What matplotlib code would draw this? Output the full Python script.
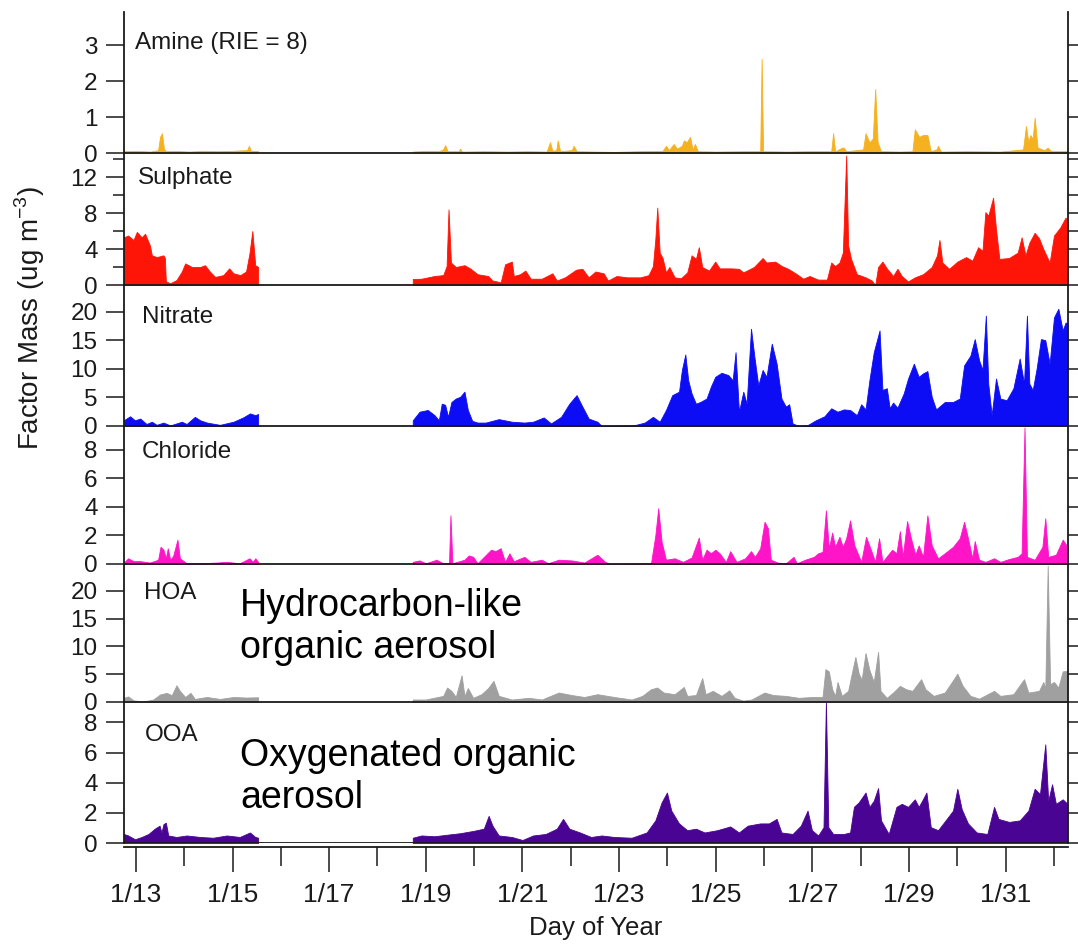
import numpy as np
import matplotlib.pyplot as plt
from matplotlib.ticker import FixedLocator, MultipleLocator

plt.rcParams['font.family'] = ['Liberation Sans', 'DejaVu Sans']
plt.rcParams['mathtext.fontset'] = 'custom'
plt.rcParams['mathtext.rm'] = 'Liberation Sans'

# --- factor mass time series (day of January, ug m-3) ---
# each factor has two measurement periods separated by a data gap

amine_t1 = [12.75, 13.00, 13.30, 13.46, 13.50, 13.54, 13.58, 13.62, 13.80, 14.10, 14.40, 14.70, 15.00, 15.30, 15.34, 15.38, 15.53]
amine_v1 = [0.05, 0.06, 0.04, 0.08, 0.45, 0.55, 0.12, 0.05, 0.06, 0.04, 0.06, 0.05, 0.06, 0.08, 0.20, 0.06, 0.05]
amine_t2 = [18.73, 19.00, 19.27, 19.36, 19.40, 19.45, 19.68, 19.71, 19.75, 20.20, 20.69, 21.10, 21.50, 21.57, 21.62,
            21.70, 21.73, 21.78, 22.02, 22.06, 22.12, 22.50, 22.90, 23.40, 23.90, 23.97, 24.03, 24.13, 24.20, 24.30,
            24.34, 24.40, 24.47, 24.52, 24.57, 24.63, 25.00, 25.57, 25.92, 25.95, 25.98, 26.50, 26.90, 27.39, 27.43,
            27.47, 27.62, 27.65, 27.70, 28.05, 28.10, 28.18, 28.25, 28.30, 28.35, 28.42, 28.80, 29.07, 29.12, 29.21,
            29.29, 29.38, 29.45, 29.57, 29.60, 29.66, 30.20, 30.89, 31.36, 31.42, 31.47, 31.51, 31.56, 31.60, 31.66,
            31.80, 31.87, 31.94, 32.28]
amine_v2 = [0.04, 0.06, 0.05, 0.10, 0.22, 0.05, 0.05, 0.12, 0.04, 0.05, 0.04, 0.05, 0.04, 0.30, 0.06,
            0.08, 0.35, 0.05, 0.08, 0.20, 0.05, 0.04, 0.03, 0.05, 0.06, 0.20, 0.08, 0.25, 0.12, 0.20,
            0.35, 0.30, 0.45, 0.10, 0.25, 0.05, 0.04, 0.05, 0.05, 2.62, 0.05, 0.04, 0.05, 0.05, 0.55,
            0.05, 0.15, 0.15, 0.05, 0.10, 0.55, 0.30, 0.40, 1.78, 0.30, 0.05, 0.04, 0.05, 0.66, 0.45,
            0.50, 0.50, 0.05, 0.10, 0.20, 0.04, 0.05, 0.04, 0.10, 0.75, 0.30, 0.50, 0.40, 0.98, 0.15,
            0.08, 0.15, 0.05, 0.05]

sulphate_t1 = [12.75, 12.84, 12.95, 13.02, 13.12, 13.19, 13.29, 13.33, 13.43, 13.57, 13.60, 13.62, 13.71, 13.84, 13.95,
               14.02, 14.16, 14.33, 14.43, 14.53, 14.64, 14.81, 14.93, 15.02, 15.16, 15.28, 15.35, 15.41, 15.47, 15.53]
sulphate_v1 = [5.3, 5.5, 5.0, 5.9, 5.3, 5.7, 4.4, 3.3, 3.1, 3.3, 3.0, 0.4, 0.2, 0.55, 1.5,
               2.4, 2.0, 2.0, 2.2, 1.5, 0.9, 1.1, 1.85, 1.3, 1.1, 1.5, 3.5, 6.0, 2.2, 2.0]
sulphate_t2 = [18.73, 18.91, 19.18, 19.36, 19.43, 19.47, 19.52, 19.62, 19.80, 19.93, 20.07, 20.29, 20.38, 20.55, 20.64,
               20.78, 20.82, 20.95, 21.06, 21.17, 21.40, 21.62, 21.71, 21.88, 22.11, 22.24, 22.37, 22.51, 22.68, 22.77,
               22.95, 23.17, 23.44, 23.61, 23.70, 23.75, 23.79, 23.84, 23.90, 23.97, 24.04, 24.15, 24.28, 24.41, 24.50,
               24.59, 24.65, 24.72, 24.86, 24.99, 25.08, 25.30, 25.48, 25.57, 25.79, 25.97, 26.05, 26.23, 26.37, 26.50,
               26.68, 26.81, 26.94, 27.12, 27.30, 27.39, 27.47, 27.56, 27.63, 27.70, 27.74, 27.80, 27.92, 28.10, 28.23,
               28.30, 28.36, 28.45, 28.54, 28.67, 28.76, 28.85, 28.98, 29.12, 29.29, 29.47, 29.58, 29.63, 29.69, 29.83,
               30.00, 30.18, 30.31, 30.43, 30.52, 30.58, 30.64, 30.74, 30.80, 30.87, 31.07, 31.25, 31.33, 31.41, 31.49,
               31.60, 31.69, 31.78, 31.91, 32.00, 32.13, 32.24, 32.28]
sulphate_v2 = [0.67, 0.7, 1.0, 1.1, 2.1, 8.4, 2.5, 2.0, 2.2, 1.8, 1.2, 1.0, 0.5, 0.3, 2.3,
               2.6, 1.0, 1.2, 1.6, 0.7, 0.7, 1.3, 0.5, 0.85, 1.7, 1.8, 0.85, 1.5, 1.3, 0.5,
               1.0, 0.85, 0.85, 1.1, 2.1, 5.1, 8.6, 3.6, 3.0, 1.4, 2.0, 0.85, 0.75, 1.4, 3.3,
               2.9, 4.2, 2.0, 1.6, 2.6, 1.85, 1.85, 1.8, 1.4, 2.0, 3.0, 2.5, 2.6, 2.1, 1.8,
               1.2, 0.7, 1.0, 0.6, 0.6, 2.5, 2.1, 2.5, 3.6, 14.4, 4.4, 2.9, 1.2, 0.85, 0.5,
               0.0, 2.0, 2.6, 1.85, 1.0, 1.8, 1.0, 0.4, 0.85, 1.2, 2.0, 3.3, 5.0, 2.5, 1.8,
               2.6, 3.1, 2.7, 4.2, 3.8, 8.1, 7.7, 9.7, 6.2, 2.9, 3.0, 3.6, 5.3, 3.3, 4.7,
               5.8, 5.2, 4.0, 2.5, 5.5, 6.4, 7.5, 7.0]

nitrate_t1 = [12.75, 12.88, 12.98, 13.09, 13.22, 13.33, 13.43, 13.57, 13.71, 13.95, 14.05, 14.22, 14.33, 14.47, 14.74,
              15.02, 15.22, 15.36, 15.47, 15.53]
nitrate_v1 = [1.0, 1.7, 1.0, 1.3, 0.35, 0.75, 0.2, 0.6, 0.1, 0.75, 0.35, 1.6, 1.0, 0.6, 0.2,
              0.75, 1.5, 2.2, 1.9, 2.1]
nitrate_t2 = [18.73, 18.87, 19.04, 19.18, 19.27, 19.33, 19.40, 19.46, 19.53, 19.62, 19.71, 19.80, 19.87, 19.96, 20.07,
              20.24, 20.51, 20.78, 21.04, 21.22, 21.44, 21.59, 21.80, 21.97, 22.12, 22.24, 22.37, 22.55, 22.64, 23.30,
              23.53, 23.70, 23.84, 23.97, 24.10, 24.24, 24.30, 24.37, 24.43, 24.50, 24.59, 24.68, 24.81, 24.90, 24.99,
              25.12, 25.26, 25.35, 25.41, 25.48, 25.57, 25.64, 25.73, 25.80, 25.88, 25.97, 26.05, 26.16, 26.26, 26.36,
              26.45, 26.52, 26.59, 26.72, 26.90, 27.07, 27.25, 27.39, 27.52, 27.65, 27.78, 27.92, 28.01, 28.10, 28.18,
              28.27, 28.39, 28.45, 28.54, 28.60, 28.67, 28.76, 28.89, 28.98, 29.10, 29.20, 29.29, 29.38, 29.47, 29.56,
              29.74, 29.91, 30.05, 30.14, 30.27, 30.36, 30.45, 30.52, 30.59, 30.64, 30.71, 30.80, 30.89, 31.02, 31.16,
              31.29, 31.38, 31.44, 31.49, 31.56, 31.64, 31.73, 31.82, 31.91, 32.00, 32.09, 32.18, 32.24, 32.28]
nitrate_v2 = [1.0, 2.5, 2.8, 1.9, 1.0, 3.9, 3.7, 1.6, 4.2, 4.8, 5.1, 6.0, 2.8, 0.9, 0.6,
              0.6, 1.2, 0.75, 0.6, 0.75, 1.5, 0.45, 1.6, 3.9, 5.4, 3.4, 1.3, 0.75, 0.0, 0.1,
              0.6, 1.6, 0.75, 2.8, 5.4, 6.0, 9.8, 12.5, 8.0, 5.7, 3.9, 4.2, 4.8, 6.9, 8.6,
              9.3, 8.9, 8.0, 12.9, 2.5, 6.0, 3.9, 17.0, 12.1, 7.1, 9.8, 8.6, 14.4, 10.9, 4.8,
              3.4, 3.8, 0.45, 0.0, 0.15, 1.0, 1.7, 3.1, 2.5, 2.9, 2.8, 1.9, 3.8, 2.9, 8.0,
              12.9, 16.7, 6.3, 6.6, 3.1, 4.1, 3.2, 5.7, 8.3, 10.9, 8.6, 9.2, 9.6, 5.1, 2.9,
              4.2, 4.2, 4.8, 10.6, 12.3, 15.2, 11.5, 9.8, 19.3, 7.4, 1.9, 8.3, 4.8, 4.5, 6.6,
              11.8, 7.4, 19.3, 7.4, 6.3, 10.0, 15.2, 15.0, 10.9, 19.0, 20.5, 16.7, 18.1, 17.9]

chloride_t1 = [12.75, 12.84, 12.95, 13.09, 13.29, 13.46, 13.51, 13.57, 13.62, 13.66, 13.71, 13.77, 13.86, 13.91, 14.05,
               14.33, 14.67, 14.88, 15.15, 15.35, 15.42, 15.47, 15.53]
chloride_v1 = [0.1, 0.4, 0.2, 0.2, 0.1, 0.3, 1.2, 1.0, 0.4, 1.1, 0.3, 0.55, 1.7, 0.4, 0.05,
               0.05, 0.1, 0.15, 0.05, 0.4, 0.15, 0.4, 0.15]
chloride_t2 = [18.73, 18.87, 19.00, 19.22, 19.36, 19.48, 19.51, 19.55, 19.80, 19.89, 19.98, 20.07, 20.35, 20.44, 20.55,
               20.64, 20.73, 20.82, 21.04, 21.17, 21.40, 21.53, 21.75, 22.02, 22.28, 22.55, 22.71, 22.82, 23.66, 23.75,
               23.81, 23.88, 23.97, 24.15, 24.32, 24.50, 24.65, 24.72, 24.81, 24.90, 24.99, 25.08, 25.21, 25.30, 25.43,
               25.61, 25.73, 25.81, 25.92, 26.01, 26.08, 26.14, 26.28, 26.45, 26.61, 26.68, 26.85, 27.03, 27.12, 27.21,
               27.28, 27.34, 27.41, 27.47, 27.56, 27.63, 27.70, 27.78, 27.87, 28.01, 28.11, 28.21, 28.30, 28.38, 28.45,
               28.65, 28.74, 28.81, 28.87, 28.96, 29.04, 29.13, 29.20, 29.29, 29.38, 29.47, 29.60, 29.74, 29.91, 30.05,
               30.14, 30.22, 30.31, 30.36, 30.45, 30.58, 30.76, 30.89, 31.07, 31.25, 31.33, 31.39, 31.44, 31.60, 31.76,
               31.82, 31.88, 32.04, 32.18, 32.28]
chloride_v2 = [0.15, 0.25, 0.05, 0.3, 0.05, 0.05, 3.4, 0.05, 0.3, 0.6, 0.5, 0.05, 1.0, 0.9, 1.1,
               0.15, 0.75, 0.2, 0.5, 0.15, 0.3, 0.05, 0.3, 0.25, 0.1, 0.65, 0.15, 0.0, 0.05, 2.0,
               3.9, 1.55, 0.3, 0.4, 0.15, 0.45, 1.85, 0.3, 1.0, 0.75, 1.0, 0.75, 0.15, 0.9, 0.15,
               0.4, 0.9, 0.5, 1.1, 2.95, 2.5, 0.3, 0.1, 0.05, 0.5, 0.05, 0.3, 0.5, 0.75, 0.85,
               3.75, 1.1, 2.2, 1.2, 1.9, 1.2, 1.8, 3.05, 1.3, 0.15, 1.9, 1.0, 0.15, 1.8, 0.15,
               1.0, 0.75, 2.3, 0.5, 3.0, 1.8, 0.65, 1.3, 0.5, 3.4, 1.3, 0.4, 0.75, 1.2, 1.8,
               2.95, 1.8, 0.4, 1.6, 0.3, 0.15, 0.4, 0.15, 0.35, 0.5, 0.75, 9.55, 0.5, 0.3, 1.2,
               3.2, 0.5, 0.65, 1.7, 1.2]

hoa_t1 = [12.75, 12.84, 12.95, 13.15, 13.36, 13.50, 13.64, 13.74, 13.84, 13.91, 14.02, 14.13, 14.22, 14.47, 14.74,
          15.02, 15.29, 15.53]
hoa_v1 = [0.75, 1.0, 0.3, 0.1, 0.45, 1.35, 1.65, 1.2, 3.0, 2.0, 0.9, 1.65, 0.55, 0.9, 0.55,
          0.9, 0.8, 0.85]
hoa_t2 = [18.73, 19.00, 19.36, 19.44, 19.53, 19.62, 19.74, 19.80, 19.87, 19.98, 20.15, 20.29, 20.40, 20.51, 20.78,
          21.13, 21.40, 21.75, 22.02, 22.28, 22.55, 22.90, 23.26, 23.48, 23.66, 23.79, 23.92, 24.15, 24.34, 24.41,
          24.59, 24.72, 24.79, 24.94, 25.12, 25.28, 25.39, 25.57, 25.74, 26.01, 26.19, 26.45, 26.72, 26.99, 27.21,
          27.27, 27.34, 27.41, 27.47, 27.52, 27.61, 27.74, 27.80, 27.89, 27.96, 28.02, 28.10, 28.18, 28.27, 28.36,
          28.41, 28.54, 28.67, 28.81, 28.94, 29.07, 29.25, 29.34, 29.51, 29.74, 29.91, 30.00, 30.11, 30.27, 30.45,
          30.76, 30.89, 31.16, 31.38, 31.47, 31.69, 31.78, 31.82, 31.87, 31.92, 32.00, 32.09, 32.18, 32.28]
hoa_v2 = [0.45, 0.45, 1.1, 2.6, 2.0, 0.9, 4.8, 1.1, 2.5, 0.75, 1.4, 2.5, 3.8, 1.1, 0.45,
          0.75, 0.45, 1.7, 1.25, 0.9, 1.4, 0.9, 0.45, 1.1, 2.3, 2.6, 1.7, 1.4, 2.7, 1.1,
          1.25, 4.3, 1.4, 2.0, 1.1, 2.1, 0.75, 0.25, 0.45, 1.7, 1.25, 1.1, 0.75, 0.9, 0.9,
          5.9, 5.5, 2.3, 1.1, 3.6, 1.1, 2.0, 4.5, 8.1, 5.1, 4.0, 8.8, 5.75, 3.6, 9.0,
          2.0, 0.75, 1.7, 2.9, 2.3, 2.0, 4.1, 2.3, 1.1, 1.7, 3.9, 5.1, 2.9, 1.1, 0.6,
          2.0, 1.1, 1.4, 4.1, 1.7, 2.0, 3.6, 2.3, 24.5, 3.2, 3.6, 2.6, 5.5, 5.6]

ooa_t1 = [12.75, 12.84, 12.98, 13.12, 13.26, 13.39, 13.49, 13.53, 13.57, 13.62, 13.67, 13.84, 14.05, 14.33, 14.60,
          14.88, 15.15, 15.36, 15.47, 15.53]
ooa_v1 = [0.6, 0.5, 0.25, 0.4, 0.6, 0.95, 1.15, 0.7, 1.25, 1.35, 0.5, 0.4, 0.5, 0.4, 0.35,
          0.5, 0.4, 0.7, 0.4, 0.35]
ooa_t2 = [18.73, 18.91, 19.18, 19.44, 19.71, 19.98, 20.20, 20.30, 20.38, 20.51, 20.78, 21.00, 21.22, 21.48, 21.71,
          21.84, 21.97, 22.19, 22.42, 22.64, 22.90, 23.26, 23.57, 23.75, 23.88, 23.99, 24.08, 24.24, 24.41, 24.59,
          24.77, 25.03, 25.30, 25.48, 25.66, 25.92, 26.10, 26.26, 26.36, 26.59, 26.76, 26.90, 26.99, 27.12, 27.23,
          27.28, 27.33, 27.43, 27.65, 27.78, 27.86, 27.96, 28.10, 28.18, 28.27, 28.36, 28.42, 28.58, 28.74, 28.85,
          28.98, 29.12, 29.20, 29.27, 29.36, 29.45, 29.60, 29.78, 29.91, 30.00, 30.09, 30.22, 30.40, 30.62, 30.76,
          30.85, 31.07, 31.29, 31.47, 31.60, 31.71, 31.82, 31.88, 31.96, 32.04, 32.18, 32.28]
ooa_v2 = [0.35, 0.5, 0.45, 0.55, 0.65, 0.8, 0.95, 1.8, 1.15, 0.5, 0.4, 0.2, 0.5, 0.6, 0.95,
          1.6, 0.95, 0.7, 0.4, 0.5, 0.4, 0.35, 0.7, 1.5, 2.7, 3.35, 2.15, 1.3, 0.85, 0.95,
          0.7, 0.85, 1.1, 0.7, 1.15, 1.3, 1.3, 1.6, 0.7, 0.6, 1.15, 2.15, 0.85, 0.5, 1.05,
          9.4, 1.05, 0.6, 0.6, 0.7, 2.4, 2.7, 3.35, 2.4, 2.8, 3.65, 1.5, 0.6, 2.4, 2.6,
          2.4, 2.9, 2.4, 2.8, 3.35, 1.05, 0.85, 1.6, 2.15, 3.6, 2.25, 1.3, 0.7, 0.6, 2.4,
          1.6, 1.4, 1.5, 2.15, 3.6, 3.25, 6.55, 2.8, 3.9, 2.6, 2.9, 2.6]

# panel names, colours and y ranges
names = ['Amine (RIE = 8)', 'Sulphate', 'Nitrate', 'Chloride', 'HOA', 'OOA']
colors = ['#F5B120', '#FF1508', '#0D0DF5', '#FF14C8', '#A0A0A0', '#4A0494']
ytops = [3.92, 14.67, 24.65, 9.65, 24.8, 9.36]
ymajor = [1, 4, 5, 2, 5, 2]
yminor = [1, 2, 5, 2, 5, 2]
series = [(amine_t1, amine_v1, amine_t2, amine_v2),
          (sulphate_t1, sulphate_v1, sulphate_t2, sulphate_v2),
          (nitrate_t1, nitrate_v1, nitrate_t2, nitrate_v2),
          (chloride_t1, chloride_v1, chloride_t2, chloride_v2),
          (hoa_t1, hoa_v1, hoa_t2, hoa_v2),
          (ooa_t1, ooa_v1, ooa_t2, ooa_v2)]

day_ticks = list(range(13, 32, 2))
day_labels = ['1/%d' % d for d in day_ticks]

W, H = 1078, 952
fig = plt.figure(figsize=(W / 100, H / 100), dpi=100)

# panel edges in pixels (top, bottom), stacked with no gap
edges = [(12, 153), (153, 285), (285, 426), (426, 564), (564, 702), (702, 843)]
label_y = [0.78, 0.81, 0.775, 0.81, 0.79, 0.765]
label_x = [0.012, 0.015, 0.019, 0.019, 0.021, 0.022]
left_px, right_px = 124, 1068

axes = []
for i, (top, bot) in enumerate(edges):
    ax = fig.add_axes([left_px / W, 1 - bot / H, (right_px - left_px) / W, (bot - top) / H])
    t1, v1, t2, v2 = series[i]
    for t, v in ((t1, v1), (t2, v2)):
        ax.fill_between(t, v, 0, color=colors[i], edgecolor=colors[i], lw=0.6)
    ax.set_xlim(12.754, 32.29)
    ax.set_ylim(0, ytops[i])

    ax.yaxis.set_major_locator(MultipleLocator(ymajor[i]))
    ax.yaxis.set_minor_locator(MultipleLocator(yminor[i]))
    ax.tick_params(axis='y', which='both', direction='out', left=True, right=True,
                   labelleft=True, labelright=False, width=1.1, colors='#1a1a1a',
                   labelsize=17.5, pad=6)
    ax.tick_params(axis='y', which='major', length=13)
    ax.tick_params(axis='y', which='minor', length=8)

    for side in ('left', 'right', 'bottom'):
        ax.spines[side].set_linewidth(1.3)
        ax.spines[side].set_color('#1a1a1a')
    ax.spines['top'].set_visible(False)

    ax.text(label_x[i], label_y[i], names[i], transform=ax.transAxes,
            fontsize=17.5, color='#1a1a1a', va='center', ha='left')
    ax.patch.set_alpha(0)
    axes.append(ax)

# x axis only on the bottom panel, drawn slightly below the baseline
for ax in axes[:-1]:
    ax.tick_params(axis='x', which='both', bottom=False, labelbottom=False)
ax = axes[-1]
ax.axhline(0, color='#1a1a1a', lw=1.3)
ax.spines['bottom'].set_position(('outward', 3))
ax.xaxis.set_major_locator(FixedLocator(day_ticks))
ax.xaxis.set_minor_locator(FixedLocator(list(range(14, 33, 2))))
ax.set_xticklabels(day_labels)
ax.tick_params(axis='x', which='both', direction='out', width=1.1, colors='#1a1a1a',
               labelsize=19, pad=8)
ax.tick_params(axis='x', which='major', length=18)
ax.tick_params(axis='x', which='minor', length=13.5)
ax.set_xlabel('Day of Year', fontsize=18.5, color='#1a1a1a', labelpad=6)

fig.text(30 / W, 1 - 318 / H, r'Factor Mass (ug m$^{-3}$)', rotation=90,
         ha='center', va='center', fontsize=20, color='#1a1a1a')

# descriptive notes for the organic factors
fig.text(240 / W, 1 - 658 / H, 'Hydrocarbon-like\norganic aerosol', fontsize=27,
         ha='left', va='baseline', color='black')
fig.text(240 / W, 1 - 808 / H, 'Oxygenated organic\naerosol', fontsize=27,
         ha='left', va='baseline', color='black')

fig.savefig('out.png', dpi=100)
